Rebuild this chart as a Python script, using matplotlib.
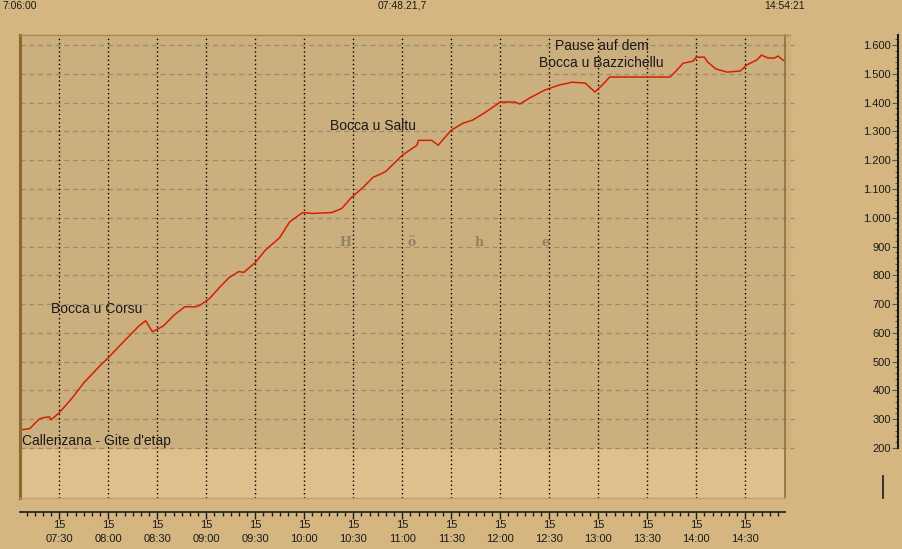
import matplotlib
matplotlib.use("Agg")
import matplotlib.pyplot as plt
from matplotlib.ticker import MultipleLocator, FixedLocator, FuncFormatter
from matplotlib.lines import Line2D

# track: clock time and elevation (m)
times = ["07:06", "07:08", "07:12", "07:15", "07:18", "07:21", "07:24", "07:25",
         "07:30", "07:38", "07:45", "07:55", "08:00", "08:07", "08:19", "08:23",
         "08:27", "08:31", "08:34", "08:40", "08:47", "08:53", "08:56", "09:02",
         "09:08", "09:14", "09:20", "09:23", "09:30", "09:36", "09:45", "09:51",
         "09:59", "10:05", "10:17", "10:23", "10:29", "10:36", "10:42", "10:46",
         "10:50", "11:00", "11:09", "11:10", "11:18", "11:22", "11:30", "11:37",
         "11:43", "11:50", "11:57", "12:00", "12:09", "12:12", "12:18", "12:27",
         "12:36", "12:44", "12:52", "12:58", "13:03", "13:07", "13:44", "13:47",
         "13:52", "13:58", "14:00", "14:05", "14:07", "14:12", "14:19", "14:27",
         "14:31", "14:37", "14:40", "14:44", "14:48", "14:50", "14:53", "14:54"]
elev = [262, 264, 267, 285, 301, 306, 308, 298,
        322, 374, 426, 486, 513, 555, 625, 642,
        604, 615, 625, 660, 691, 690, 695, 719,
        757, 792, 813, 810, 844, 886, 931, 985,
        1018, 1015, 1018, 1032, 1071, 1105, 1140, 1150,
        1161, 1217, 1252, 1269, 1269, 1252, 1304, 1328,
        1339, 1363, 1390, 1402, 1402, 1395, 1416, 1443,
        1461, 1471, 1468, 1437, 1464, 1489, 1489, 1506,
        1537, 1544, 1558, 1558, 1541, 1517, 1506, 1510,
        1531, 1548, 1565, 1555, 1555, 1562, 1548, 1546]

# waypoint labels
wp_labels = ["Callenzana - Gite d'etap", "Bocca u Corsu", "Bocca u Saltu",
             "Pause auf dem\nBocca u Bazzichellu"]
wp_times = ["07:07", "07:25", "10:16", "13:02"]
wp_elev = [224, 684, 1318, 1567]

axis_title = ["H", "ö", "h", "e"]
axis_title_times = ["10:25", "11:06", "11:47", "12:28"]

start_label = "7:06:00"
duration_label = "07:48.21,7"
end_label = "14:54:21"
t_start, t_end = "07:06:00", "14:54:21"


def to_min(s):
    parts = [float(p) for p in s.split(":")]
    while len(parts) < 3:
        parts.append(0.0)
    return parts[0] * 60 + parts[1] + parts[2] / 60


def fmt_time(v, pos=None):
    h, m = divmod(int(round(v)), 60)
    return f"15\n{h:02d}:{m:02d}"


W, H = 902, 549
BG = "#D6B680"
DARK = "#CCAF7E"
LIGHT = "#DDC08E"
FONT = "Liberation Sans"
plt.rcParams["font.family"] = [FONT, "DejaVu Sans"]

fig = plt.figure(figsize=(W / 100, H / 100), dpi=100, facecolor=BG)


def px_axes(x0, y0, x1, y1):
    return fig.add_axes([x0 / W, 1 - y1 / H, (x1 - x0) / W, (y1 - y0) / H])


ax = px_axes(20, 35, 785, 498)
x0, x1 = to_min(t_start), to_min(t_end)
ylo, yhi = 26, 1635
ax.set_xlim(x0, x1)
ax.set_ylim(ylo, yhi)
ax.set_facecolor(LIGHT)
ax.axhspan(200, yhi, xmin=0, xmax=1.007, color=DARK, clip_on=False, zorder=0)

# grid
for v in range(200, 1700, 100):
    ax.plot([x0, x1 + 5.5], [v, v], ls=(0, (4, 3)), color="#9E8B68", lw=0.9,
            clip_on=False, zorder=1)
major = [to_min("07:30") + 30 * i for i in range(15)]
for t in major:
    ax.axvline(t, color="black", ls=(0, (1, 2)), lw=1, zorder=1)

ax.plot([to_min(t) for t in times], elev, color="#D42000", lw=1.1, zorder=3)

for lab, t, v in zip(wp_labels, wp_times, wp_elev):
    if "\n" in lab:
        ax.text(to_min(t), v, lab, ha="center", va="center", fontsize=10,
                color="#1a1a1a", linespacing=1.2, zorder=4)
    else:
        ax.text(to_min(t), v, lab, ha="left", va="center", fontsize=10,
                color="#1a1a1a", zorder=4)
for ch, t in zip(axis_title, axis_title_times):
    ax.text(to_min(t), 914, ch, ha="center", va="center", fontsize=9,
            family="DejaVu Serif", fontweight="bold", color="#8F8268", zorder=2)

# frame
for s in ["top", "right", "left"]:
    ax.spines[s].set_visible(False)
ax.plot([0, 0], [0, 1], transform=ax.transAxes, color="#8A6A30", lw=2.2,
        clip_on=False, zorder=5)
ax.plot([1, 1], [0, 1], transform=ax.transAxes, color="#8C7038", lw=1.2,
        clip_on=False, zorder=5)
ax.plot([0, 1.007], [1, 1], transform=ax.transAxes, color="#A88A50", lw=1,
        clip_on=False, zorder=5)
ax.plot([0, 1], [0, 0], transform=ax.transAxes, color="#C0A070", lw=1,
        clip_on=False, zorder=5)

# x axis
ax.spines["bottom"].set_position(("outward", 10))
ax.spines["bottom"].set_color("#1a1a1a")
ax.spines["bottom"].set_linewidth(1.2)
ax.xaxis.set_major_locator(FixedLocator(major))
ax.xaxis.set_minor_locator(MultipleLocator(5))
ax.xaxis.set_major_formatter(FuncFormatter(fmt_time))
ax.tick_params(axis="x", which="major", length=5, width=1, color="#1a1a1a",
               labelsize=8, labelcolor="#1a1a1a", pad=1)
ax.tick_params(axis="x", which="minor", length=3, width=1, color="#1a1a1a")
for lbl in ax.get_xticklabels():
    lbl.set_linespacing(1.45)
ax.set_yticks([])

# right elevation scale
ay = px_axes(898, 35, 899, 498)
ay.patch.set_visible(False)
for s in ["top", "right", "bottom"]:
    ay.spines[s].set_visible(False)
ay.spines["left"].set_bounds(200, yhi)
ay.spines["left"].set_linewidth(1.5)
ay.spines["left"].set_color("#1a1a1a")
ay.set_xticks([])
ay.yaxis.set_major_locator(FixedLocator(list(range(200, 1700, 100))))
ay.yaxis.set_minor_locator(FixedLocator([v for v in range(200, 1640, 20) if v % 100]))
ay.yaxis.set_major_formatter(FuncFormatter(lambda v, p: f"{int(v):,}".replace(",", ".")))
ay.tick_params(axis="y", which="major", length=4, width=0.8, color="#555",
               labelsize=8, labelcolor="#1a1a1a", pad=1)
ay.tick_params(axis="y", which="minor", length=2.5, width=0.7, color="#555")
ay.set_ylim(ylo, yhi)

fig.add_artist(Line2D([883 / W, 883 / W], [1 - 498 / H, 1 - 476 / H],
                      color="#1a1a1a", lw=1.2))

# header times
fig.text(20 / W, 1 - 6 / H, start_label, ha="center", va="center", fontsize=7.5,
         color="#1a1a1a")
fig.text(402 / W, 1 - 6 / H, duration_label, ha="center", va="center",
         fontsize=7.5, color="#1a1a1a")
fig.text(785 / W, 1 - 6 / H, end_label, ha="center", va="center", fontsize=7.5,
         color="#1a1a1a")

fig.savefig("out.png", dpi=100, facecolor=BG)
